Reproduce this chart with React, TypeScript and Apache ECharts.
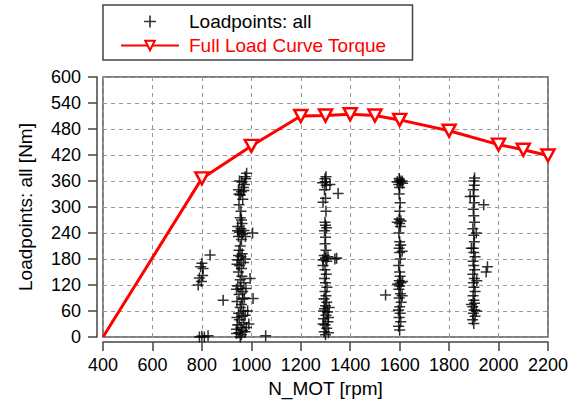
import React, { useEffect, useRef } from "react";
import * as echarts from "echarts";

const xTicks = [400, 600, 800, 1000, 1200, 1400, 1600, 1800, 2000, 2200];
const yTicks = [0, 60, 120, 180, 240, 300, 360, 420, 480, 540, 600];

const fullLoadRpm = [400, 800, 1000, 1200, 1300, 1400, 1500, 1600, 1800, 2000, 2100, 2200];
const fullLoadTorque = [0, 366, 441, 510, 511, 514, 511, 501, 476, 444, 432, 419];

const loads800 = [
  [790, 0], [800, 2], [810, 0], [825, 3], [795, 162], [800, 170], [805, 158],
  [790, 136], [798, 128], [785, 120], [803, 142], [833, 189], [1058, 3],
];
const loads960 = [
  [955, 0], [960, 5], [950, 10], [965, 15], [958, 22], [945, 28], [970, 33], [952, 40],
  [962, 48], [948, 55], [968, 60], [955, 68], [960, 75], [942, 82], [972, 90], [950, 98],
  [965, 105], [958, 112], [945, 118], [970, 125], [955, 132], [962, 140], [948, 150],
  [960, 158], [952, 165], [968, 172], [945, 178], [958, 185], [963, 192], [950, 200],
  [955, 210], [960, 225], [948, 232], [965, 238], [952, 242], [970, 246], [958, 250],
  [945, 255], [962, 262], [955, 275], [958, 290], [950, 305], [965, 318], [955, 328],
  [960, 335], [948, 340], [968, 345], [972, 352], [962, 358], [978, 365], [981, 378],
  [975, 370], [886, 85], [1007, 89], [1005, 240], [995, 135], [990, 30], [985, 60],
  [940, 8], [975, 12], [942, 45], [975, 50], [940, 110], [978, 112], [942, 168],
  [975, 180], [944, 245], [976, 232], [950, 330], [970, 338], [940, 18], [980, 22],
  [965, 88], [948, 188], [960, 270], [952, 360],
];
const loads1300 = [
  [1300, 5], [1295, 12], [1305, 20], [1298, 28], [1310, 35], [1292, 42], [1302, 50],
  [1308, 58], [1296, 65], [1300, 72], [1305, 80], [1294, 88], [1302, 95], [1298, 105],
  [1306, 115], [1300, 125], [1296, 135], [1303, 145], [1298, 155], [1290, 165], [1305, 175],
  [1300, 182], [1295, 188], [1310, 185], [1302, 200], [1298, 215], [1300, 230], [1296, 245],
  [1304, 252], [1300, 258], [1298, 265], [1302, 290], [1300, 320], [1296, 340], [1303, 350],
  [1300, 358], [1298, 365], [1302, 370], [1351, 331], [1290, 311], [1338, 180], [1345, 182],
  [1312, 10], [1290, 30], [1312, 45], [1292, 60], [1315, 68], [1290, 178], [1318, 352],
  [1288, 356],
];
const loads1600 = [
  [1600, 16], [1596, 25], [1604, 35], [1598, 45], [1602, 55], [1595, 62], [1600, 70],
  [1606, 80], [1598, 90], [1603, 100], [1597, 110], [1600, 118], [1605, 125], [1598, 130],
  [1602, 140], [1600, 150], [1596, 165], [1603, 180], [1600, 195], [1598, 205], [1604, 212],
  [1600, 220], [1597, 240], [1603, 255], [1600, 262], [1605, 268], [1598, 272], [1600, 290],
  [1602, 310], [1598, 330], [1600, 345], [1596, 352], [1605, 358], [1600, 362], [1598, 366],
  [1610, 360], [1543, 97], [1612, 128], [1592, 122], [1612, 355], [1590, 358], [1610, 198],
  [1590, 265], [1610, 95],
];
const loads1900 = [
  [1900, 31], [1895, 40], [1905, 48], [1898, 55], [1902, 62], [1896, 70], [1903, 78],
  [1900, 85], [1897, 95], [1905, 105], [1900, 115], [1898, 125], [1902, 135], [1896, 145],
  [1903, 155], [1900, 165], [1897, 175], [1905, 185], [1900, 195], [1898, 205], [1902, 220],
  [1900, 235], [1896, 250], [1903, 265], [1900, 280], [1898, 295], [1902, 310], [1900, 325],
  [1898, 340], [1902, 350], [1900, 360], [1903, 367], [1940, 305], [1955, 162], [1950, 150],
  [1885, 324], [1910, 60], [1890, 75], [1912, 130], [1890, 205], [1910, 240],
];

const PLUS =
  "path://M-0.14,-1L0.14,-1L0.14,-0.14L1,-0.14L1,0.14L0.14,0.14L0.14,1L-0.14,1L-0.14,0.14L-1,0.14L-1,-0.14L-0.14,-0.14Z";
const TRI_DOWN = "path://M0,0L12,0L6,11Z";
const FONT = "Liberation Sans";

export default function App() {
  const ref = useRef<HTMLDivElement>(null);
  useEffect(() => {
    if (!ref.current) return;
    const chart = echarts.init(ref.current, undefined, { renderer: "svg" });
    const scatterData = [...loads800, ...loads960, ...loads1300, ...loads1600, ...loads1900];
    const lineData = fullLoadRpm.map((r, i) =>
      i === 0 ? { value: [r, fullLoadTorque[i]], symbol: "none" } : [r, fullLoadTorque[i]]
    );
    chart.setOption({
      animation: false,
      textStyle: { fontFamily: FONT },
      legend: {
        orient: "vertical",
        left: 103,
        top: 5,
        padding: [7, 26, 5, 17],
        itemGap: 5,
        itemWidth: 58,
        itemHeight: 12,
        borderColor: "#444",
        borderWidth: 1.5,
        borderRadius: 0,
        textStyle: { fontFamily: FONT, fontSize: 19, color: "#000", padding: [0, 0, 0, 5] },
        data: [
          { name: "Loadpoints: all" },
          { name: "Full Load Curve Torque", textStyle: { color: "#ff0000" } },
        ],
      },
      grid: {
        left: 103,
        right: 21,
        top: 77,
        bottom: 64,
        outerBoundsMode: "none",
        containLabel: false,
        show: true,
        borderColor: "#555",
        borderWidth: 1.5,
        backgroundColor: "#fff",
      },
      xAxis: {
        type: "value",
        min: xTicks[0],
        max: xTicks[xTicks.length - 1],
        interval: 200,
        offset: 5,
        name: "N_MOT [rpm]",
        nameLocation: "middle",
        nameGap: 37,
        nameTextStyle: { fontFamily: FONT, fontSize: 19, color: "#000" },
        axisLine: { show: true, onZero: false, lineStyle: { color: "#444", width: 1.5 } },
        axisTick: { show: true, length: 9, lineStyle: { color: "#444", width: 1.5 } },
        axisLabel: {
          fontFamily: FONT,
          fontSize: 18,
          color: "#000",
          margin: 14,
          formatter: (v: number) => String(v),
        },
        splitLine: { show: true, lineStyle: { color: "#999", type: [4, 4], width: 1 } },
      },
      yAxis: {
        type: "value",
        min: yTicks[0],
        max: yTicks[yTicks.length - 1],
        interval: 60,
        offset: 6,
        name: "Loadpoints: all [Nm]",
        nameLocation: "middle",
        nameGap: 62,
        nameTextStyle: { fontFamily: FONT, fontSize: 19, color: "#000" },
        axisLine: { show: true, onZero: false, lineStyle: { color: "#444", width: 1.5 } },
        axisTick: { show: true, length: 9, lineStyle: { color: "#444", width: 1.5 } },
        axisLabel: {
          fontFamily: FONT,
          fontSize: 18,
          color: "#000",
          margin: 16,
          formatter: (v: number) => String(v),
        },
        splitLine: { show: true, lineStyle: { color: "#999", type: [4, 4], width: 1 } },
      },
      series: [
        {
          name: "Loadpoints: all",
          type: "scatter",
          symbol: PLUS,
          symbolSize: 11,
          itemStyle: { color: "#000" },
          data: scatterData,
          z: 2,
        },
        {
          name: "Full Load Curve Torque",
          type: "line",
          symbol: TRI_DOWN,
          symbolSize: [13, 12],
          showAllSymbol: true,
          lineStyle: { color: "#ff0000", width: 3 },
          itemStyle: { color: "#ffffff", borderColor: "#ff0000", borderWidth: 2.5 },
          data: lineData,
          z: 3,
        },
      ],
    });
    return () => chart.dispose();
  }, []);
  return (
    <div
      ref={ref}
      style={{ position: "absolute", left: 0, top: 0, width: 569, height: 401 }}
    />
  );
}
